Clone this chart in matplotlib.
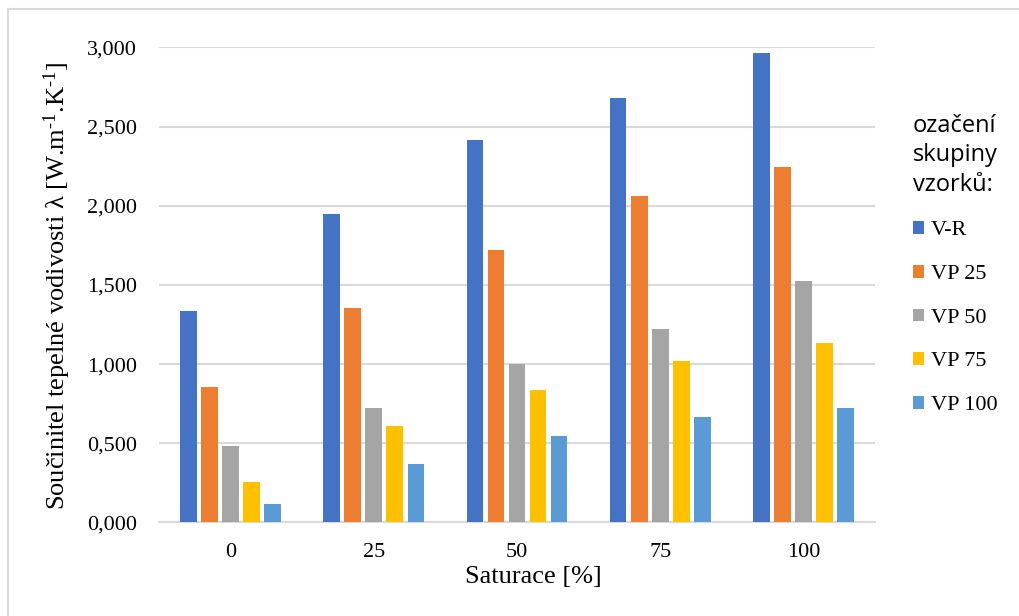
import numpy as np
import matplotlib
matplotlib.use('Agg')
import matplotlib.pyplot as plt
from matplotlib.lines import Line2D
from matplotlib.patches import Patch
from matplotlib.ticker import FuncFormatter

plt.rcParams['font.family'] = ['Liberation Serif', 'DejaVu Serif']
plt.rcParams['mathtext.fontset'] = 'custom'
plt.rcParams['mathtext.rm'] = 'Liberation Serif'
plt.rcParams['mathtext.it'] = 'Liberation Serif:italic'

saturace = ['0', '25', '50', '75', '100']
skupiny = ['V-R', 'VP 25', 'VP 50', 'VP 75', 'VP 100']

vr = [1.336, 1.945, 2.415, 2.682, 2.966]
vp25 = [0.853, 1.353, 1.718, 2.059, 2.246]
vp50 = [0.480, 0.722, 0.998, 1.223, 1.524]
vp75 = [0.253, 0.608, 0.836, 1.021, 1.134]
vp100 = [0.116, 0.366, 0.543, 0.665, 0.722]

barvy = ['#4472C4', '#ED7D31', '#A5A5A5', '#FFC000', '#5B9BD5']

fig = plt.figure(figsize=(10.19, 6.16), dpi=100)
ax = fig.add_axes([0.156, 0.152, 0.7027, 0.771])

x = np.arange(len(saturace))
slot = 0.147
for i, (vals, name) in enumerate(zip([vr, vp25, vp50, vp75, vp100], skupiny)):
    ax.bar(x + (i - 2) * slot, vals, width=0.117, color=barvy[i], label=name, zorder=3)

ax.set_xlim(-0.5, 4.5)
ax.set_ylim(0, 3.0)
ax.set_yticks(np.arange(0, 3.01, 0.5))
ax.yaxis.set_major_formatter(FuncFormatter(lambda v, p: f'{v:.3f}'.replace('.', ',')))
ax.set_xticks(x)
ax.set_xticklabels(saturace)
ax.tick_params(axis='both', length=0, labelsize=16, colors='black')
ax.tick_params(axis='y', pad=16)
ax.tick_params(axis='x', pad=15)
ax.grid(axis='y', color='#D9D9D9', linewidth=1.5, zorder=0)
for s in ['top', 'right', 'left']:
    ax.spines[s].set_visible(False)
ax.spines['bottom'].set_color('#D9D9D9')
ax.spines['bottom'].set_linewidth(1.5)

fig.text(57 / 1019, 1 - 286 / 616,
         r'Součinitel tepelné vodivosti λ [W.m$^{\text{-1}}$.K$^{\text{-1}}$]',
         rotation=90, ha='center', va='center', fontsize=19)
fig.text(533 / 1019, 1 - 577 / 616, 'Saturace [%]', ha='center', va='center', fontsize=19)

handles = [Patch(facecolor=c, edgecolor='none') for c in barvy]
leg = fig.legend(handles, skupiny, loc='upper left', bbox_to_anchor=(913 / 1019, 1 - 114 / 616),
                 frameon=False, fontsize=16, title='ozačení\nskupiny\nvzorků:',
                 title_fontproperties={'family': 'Open Sans', 'size': 17},
                 handlelength=0.5, handleheight=0.5, handletextpad=0.3, labelspacing=1.1,
                 borderpad=0, borderaxespad=0)
leg.get_title().set_linespacing(1.3)
leg._legend_box.align = 'center'

# rámeček grafu
fig.add_artist(Line2D([8 / 1019, 1.0], [1 - 9 / 616] * 2, color='#D9D9D9', linewidth=1.5))
fig.add_artist(Line2D([8 / 1019] * 2, [0.0, 1 - 9 / 616], color='#D9D9D9', linewidth=1.5))

fig.savefig('out.png', dpi=100)
